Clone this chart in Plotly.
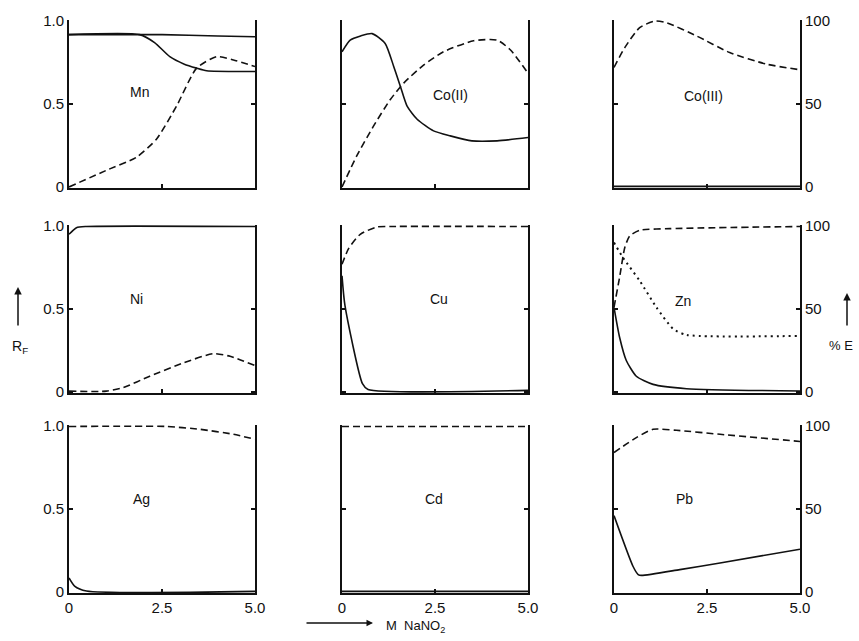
import plotly.graph_objects as go

# ---------------- data (x = M NaNO2) ----------------
elements = ["Mn", "Co(II)", "Co(III)", "Ni", "Cu", "Zn", "Ag", "Cd", "Pb"]

# R_F curves (solid)
mn_rf_x = [0, 1.9, 2.3, 2.71, 3.1, 3.43, 3.7, 5.0]
mn_rf_y = [0.918, 0.918, 0.87, 0.785, 0.74, 0.716, 0.70, 0.696]
mn_top_x = [0, 2.5, 4.0, 5.0]
mn_top_y = [0.918, 0.918, 0.91, 0.905]
co2_rf_x = [0, 0.22, 0.5, 0.81, 1.16, 1.39, 1.57, 1.75, 2.02, 2.46, 2.91, 3.49, 4.17, 5.0]
co2_rf_y = [0.815, 0.885, 0.91, 0.924, 0.865, 0.726, 0.606, 0.487, 0.408, 0.338, 0.308, 0.278, 0.278, 0.298]
co3_rf_x = [0, 5.0]
co3_rf_y = [0.004, 0.004]
ni_rf_x = [0, 0.2, 0.47, 5.0]
ni_rf_y = [0.95, 0.99, 0.997, 0.997]
cu_rf_x = [0, 0.08, 0.55, 0.7, 5.0]
cu_rf_y = [0.70, 0.52, 0.05, 0.015, 0.01]
zn_rf_x = [0, 0.15, 0.33, 0.6, 1.05, 1.95, 5.0]
zn_rf_y = [0.51, 0.33, 0.19, 0.095, 0.046, 0.02, 0.006]
zn_dot_x = [0, 0.24, 0.69, 1.14, 1.59, 1.95, 5.0]
zn_dot_y = [0.90, 0.81, 0.67, 0.51, 0.38, 0.344, 0.338]
ag_rf_x = [0, 0.15, 0.47, 5.0]
ag_rf_y = [0.085, 0.036, 0.006, 0.004]
cd_rf_x = [0, 5.0]
cd_rf_y = [0.004, 0.004]
pb_rf_x = [0, 0.51, 0.65, 0.74, 1.77, 2.85, 5.0]
pb_rf_y = [0.46, 0.155, 0.105, 0.10, 0.135, 0.175, 0.258]

# %E curves (dashed)
mn_e_x = [0, 1.0, 1.81, 2.35, 2.89, 3.43, 3.97, 4.42, 5.0]
mn_e_y = [0, 10, 17.9, 28.8, 48.7, 71.6, 78.5, 76.5, 72.6]
co2_e_x = [0, 0.40, 0.85, 1.30, 1.66, 2.20, 2.73, 3.54, 4.17, 4.53, 5.0]
co2_e_y = [0, 18.9, 36.8, 52.7, 62.6, 73.6, 81.5, 88.1, 88.5, 82.5, 68.6]
co3_e_x = [0, 0.29, 0.69, 1.10, 1.41, 2.22, 3.11, 4.10, 5.0]
co3_e_y = [72, 84, 96, 100, 99, 91, 81, 74, 70.6]
ni_e_x = [0, 1.0, 1.45, 2.17, 3.07, 3.88, 4.33, 5.0]
ni_e_y = [0.5, 0.5, 2.6, 9.5, 17.5, 23.1, 21.5, 15.9]
cu_e_x = [0, 0.18, 0.49, 0.94, 1.3, 5.0]
cu_e_y = [77, 86.5, 95, 99.4, 99.7, 99.7]
zn_e_x = [0, 0.15, 0.29, 0.42, 0.69, 1.5, 5.0]
zn_e_y = [51, 69, 87, 94, 97.4, 98.4, 99.7]
ag_e_x = [0, 2.62, 3.52, 4.42, 5.0]
ag_e_y = [99.7, 99.7, 98, 95, 92]
cd_e_x = [0, 5.0]
cd_e_y = [99.7, 99.7]
pb_e_x = [0, 0.6, 1.05, 1.68, 2.85, 5.0]
pb_e_y = [84, 93, 98, 97.4, 95, 90.7]

label_x = [1.9, 2.91, 2.4, 1.81, 2.6, 1.86, 1.95, 2.46, 1.9]
label_y = [0.57, 0.557, 0.55, 0.56, 0.56, 0.55, 0.56, 0.56, 0.56]

x_ticks = [0, 2.5, 5.0]
x_ticktext = ["0", "2.5", "5.0"]
rf_ticks = [0, 0.5, 1.0]
rf_ticktext = ["0", "0.5", "1.0"]
e_ticks = [0, 50, 100]
e_ticktext = ["0", "50", "100"]

solid = {
    0: [(mn_top_x, mn_top_y), (mn_rf_x, mn_rf_y)],
    1: [(co2_rf_x, co2_rf_y)],
    2: [(co3_rf_x, co3_rf_y)],
    3: [(ni_rf_x, ni_rf_y)],
    4: [(cu_rf_x, cu_rf_y)],
    5: [(zn_rf_x, zn_rf_y)],
    6: [(ag_rf_x, ag_rf_y)],
    7: [(cd_rf_x, cd_rf_y)],
    8: [(pb_rf_x, pb_rf_y)],
}
dashed = {
    0: (mn_e_x, mn_e_y), 1: (co2_e_x, co2_e_y), 2: (co3_e_x, co3_e_y),
    3: (ni_e_x, ni_e_y), 4: (cu_e_x, cu_e_y), 5: (zn_e_x, zn_e_y),
    6: (ag_e_x, ag_e_y), 7: (cd_e_x, cd_e_y), 8: (pb_e_x, pb_e_y),
}

# ---------------- layout ----------------
W, H = 859, 641


def px(xp):
    return xp / W


def py(yp):
    return 1 - yp / H


col_px = [(69, 255), (342, 528), (614, 800)]
row_px = [(20, 188), (225, 393), (425, 593)]
FONT = "Liberation Sans, Arial, sans-serif"
BLACK = "#111111"

fig = go.Figure()
layout = dict(
    width=W, height=H, margin=dict(l=0, r=0, t=0, b=0, autoexpand=False),
    paper_bgcolor="white", plot_bgcolor="white", showlegend=False,
    font=dict(family=FONT, size=14, color=BLACK),
)

for i in range(9):
    r, c = divmod(i, 3)
    n = i + 1
    m = i + 10
    xd = [px(col_px[c][0]), px(col_px[c][1])]
    yd = [py(row_px[r][1]), py(row_px[r][0])]
    common = dict(showgrid=False, zeroline=False, automargin=False,
                  showline=True, linecolor=BLACK, linewidth=2,
                  ticks="inside", ticklen=4, tickcolor=BLACK, tickwidth=1.5,
                  tickfont=dict(size=15, family=FONT, color=BLACK))
    layout[f"xaxis{n}"] = dict(
        domain=xd, anchor=f"y{n}", range=[0, 5.0],
        tickvals=x_ticks, ticktext=x_ticktext, showticklabels=(r == 2), **common)
    layout[f"yaxis{n}"] = dict(
        domain=yd, anchor=f"x{n}", range=[-0.006, 1.006],
        tickvals=rf_ticks, ticktext=rf_ticktext, showticklabels=(c == 0), **common)
    layout[f"yaxis{m}"] = dict(
        overlaying=f"y{n}", anchor=f"x{n}", side="right", range=[-0.6, 100.6],
        tickvals=e_ticks, ticktext=e_ticktext, showticklabels=(c == 2), **common)
    for sx, sy in solid[i]:
        fig.add_trace(go.Scatter(x=sx, y=sy, mode="lines", xaxis=f"x{n}", yaxis=f"y{n}",
                                 line=dict(color=BLACK, width=1.6, shape="spline", smoothing=0.6),
                                 hoverinfo="skip"))
    dx, dy = dashed[i]
    fig.add_trace(go.Scatter(x=dx, y=dy, mode="lines", xaxis=f"x{n}", yaxis=f"y{m}",
                             line=dict(color=BLACK, width=1.6, dash="7px,4px", shape="spline", smoothing=0.6),
                             hoverinfo="skip"))
    if i == 5:
        fig.add_trace(go.Scatter(x=zn_dot_x, y=zn_dot_y, mode="lines", xaxis=f"x{n}", yaxis=f"y{n}",
                                 line=dict(color=BLACK, width=2, dash="2px,4px", shape="spline", smoothing=0.6),
                                 hoverinfo="skip"))

annotations = []
for i, name in enumerate(elements):
    n = i + 1
    annotations.append(dict(x=label_x[i], y=label_y[i], xref=f"x{n}", yref=f"y{n}",
                            xanchor="center", yanchor="middle",
                            text=name, showarrow=False, font=dict(size=14, family=FONT, color=BLACK)))

# axis titles with arrows
annotations += [
    dict(x=px(18), y=py(287), xref="paper", yref="paper", text="", showarrow=True,
         ax=0, ay=40, arrowhead=2, arrowsize=1, arrowwidth=1.5, arrowcolor=BLACK),
    dict(x=px(20), y=py(347), xref="paper", yref="paper", text="R<sub>F</sub>",
         xanchor="center", yanchor="middle",
         showarrow=False, font=dict(size=14, family=FONT, color=BLACK)),
    dict(x=px(847), y=py(293), xref="paper", yref="paper", text="", showarrow=True,
         ax=0, ay=34, arrowhead=2, arrowsize=1, arrowwidth=1.5, arrowcolor=BLACK),
    dict(x=px(841), y=py(345), xref="paper", yref="paper", text="% E",
         xanchor="center", yanchor="middle",
         showarrow=False, font=dict(size=13, family=FONT, color=BLACK)),
    dict(x=px(373), y=py(623), xref="paper", yref="paper", text="", showarrow=True,
         ax=-68, ay=0, arrowhead=2, arrowsize=1, arrowwidth=1.3, arrowcolor=BLACK),
    dict(x=px(384), y=py(626), xref="paper", yref="paper", text="M  NaNO<sub>2</sub>",
         xanchor="left", yanchor="middle",
         showarrow=False, font=dict(size=13, family=FONT, color=BLACK)),
]
layout["annotations"] = annotations
fig.update_layout(**layout)
# remove the browser's default 8px page margin so the figure fills the window exactly
fig.write_html("out.html", config={"displayModeBar": False},
               post_script="document.body.style.margin='0';document.body.style.overflow='hidden';")
